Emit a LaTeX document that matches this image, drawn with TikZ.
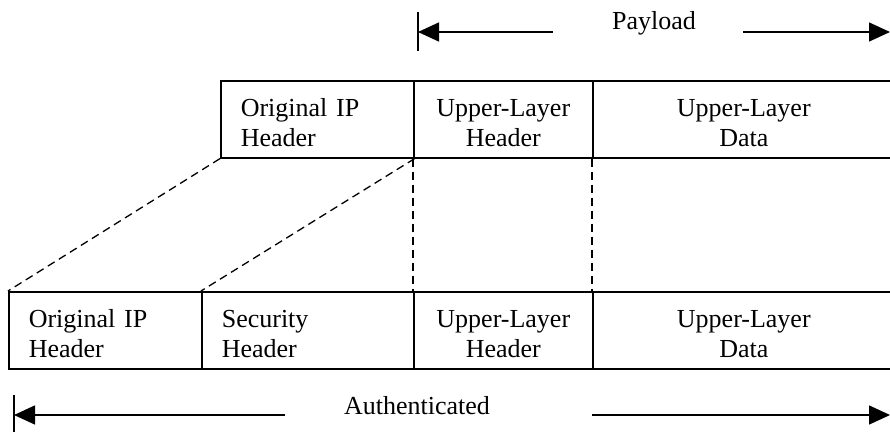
\documentclass[tikz,border=0pt]{standalone}
\usepackage{fontspec}
\setmainfont{Liberation Serif}
\usetikzlibrary{arrows.meta}
\begin{document}
\begin{tikzpicture}[x=1pt,y=-1pt,
  font=\fontsize{26pt}{30pt}\selectfont,
  cell/.style={draw,line width=1.6pt,anchor=north west,inner sep=0pt,
    minimum height=77pt,execute at begin node={\rule{0pt}{24pt}}},
  lcell/.style={cell,align=left,text width=#1-40pt,minimum width=#1,inner xsep=20pt,inner ysep=0pt},
  ccell/.style={cell,align=center,text width=#1,minimum width=#1},
  guide/.style={dashed,line width=1.3pt,dash pattern=on 8pt off 5pt},
  span/.style={line width=1.4pt,-{Triangle[length=21pt,width=19pt]}},
  bar/.style={line width=1.4pt}]
\useasboundingbox (0,0) rectangle (890,431);

% original packet
\node[lcell=193pt] (tip) at (220,80) {Original IP\\Header};
\node[ccell=179pt] (tulh) at (413,80) {Upper-Layer\\Header};
\node[ccell=302pt] (tuld) at (592,80) {Upper-Layer\\Data};

% protected packet
\node[lcell=193pt] (bip) at (8,291) {Original IP\\Header};
\node[lcell=212pt] (bsec) at (201,291) {Security\\Header};
\node[ccell=179pt] (bulh) at (413,291) {Upper-Layer\\Header};
\node[ccell=302pt] (buld) at (592,291) {Upper-Layer\\Data};

% guide lines between the two layouts
\draw[guide] (tip.south west) -- (bip.north west);
\draw[guide] (tip.south east) -- (bsec.north west);
\draw[guide] (tulh.south west) -- (bulh.north west);
\draw[guide] (tuld.south west) -- (buld.north west);

% payload span
\node (payload) at (654,23) {Payload};
\coordinate (pbt) at (418,12);
\coordinate (pbb) at (418,51);
\coordinate (pl) at (418,32);
\coordinate (pls) at (553,32);
\coordinate (prs) at (743,32);
\coordinate (pr) at (890,32);
\draw[bar] (pbt) -- (pbb);
\draw[span] (pls) -- (pl);
\draw[span] (prs) -- (pr);

% authenticated span
\node (auth) at (417,406) {Authenticated};
\coordinate (abt) at (14,395);
\coordinate (abb) at (14,435);
\coordinate (al) at (14,415);
\coordinate (als) at (285,415);
\coordinate (ars) at (592,415);
\coordinate (ar) at (890,415);
\draw[bar] (abt) -- (abb);
\draw[span] (als) -- (al);
\draw[span] (ars) -- (ar);
\end{tikzpicture}
\end{document}
